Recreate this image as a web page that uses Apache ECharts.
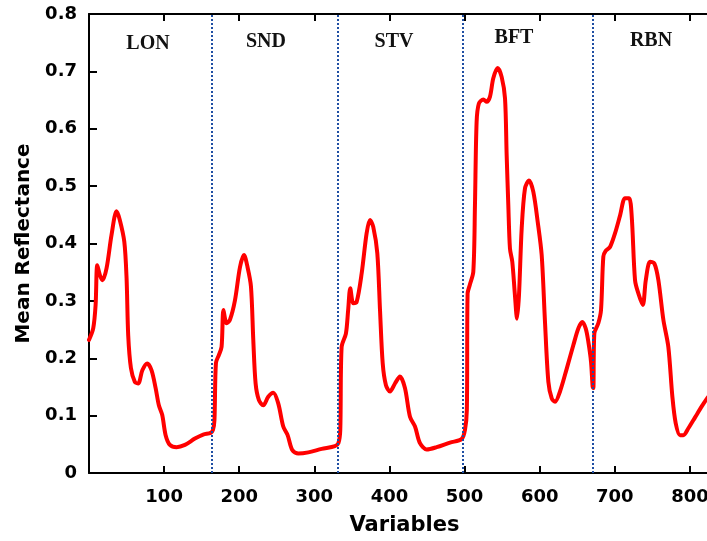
<!DOCTYPE html>
<html>
<head>
<meta charset="utf-8">
<script src="https://cdn.jsdelivr.net/npm/echarts@6/dist/echarts.min.js"></script>
<style>html,body{margin:0;padding:0;background:#fff;}#c{width:707px;height:541px;}</style>
</head>
<body>
<div id="c"></div>
<script>
// Variable index (x) and mean reflectance (y)
var variables = [
  0, 5.6, 8.8, 11, 14.5, 18, 23.4, 30, 36.7, 41, 47, 50, 52.2, 55.8, 61, 65.5, 71, 77.5, 83.3, 88.7,
  93, 97.5, 102, 107.7, 116.6, 127.7, 141, 152, 162, 165, 167, 169,
  173, 176.5, 179, 183.2, 187.6, 194.3, 201, 206.3, 211, 215.6, 218.7, 221.8, 226.2, 232, 238.6, 245.3,
  252, 258.6, 264.4, 270.6, 278.6, 292, 309.7, 327.4, 332, 334.5, 336.3,
  342, 345, 347.8, 351.8, 356.3, 363, 369.6, 374, 378.4, 383.8, 387.4, 391, 395.3, 400.7, 407.3, 414,
  420.6, 427.3, 434, 440.6, 449.5, 462.8, 480.6, 496, 500.5, 503, 504,
  507, 511.6, 513.8, 516, 519, 525, 529.4, 533.8, 538.2, 544, 549.4, 553.8, 556, 558.2, 560.4, 563.5,
  567, 569.8, 572.4, 576, 580.4, 585.8, 591.5, 597.3, 602.6, 607, 611.5, 616, 620.4, 627, 636, 644.8,
  651.4, 656.7, 661.2, 664.7, 668.3, 670.5, 671.4, 672.7,
  678, 681.6, 684.7, 687.8, 693.6, 700.3, 707, 713.6, 719, 722.5, 726.9, 731.3, 737.2, 741.2, 746.9,
  752.7, 758, 764.6, 771.2, 776.6, 781, 786.8, 791.2, 797.9, 806.8, 815.7, 822.8, 830
];
var reflectance = [
  0.232, 0.252, 0.293, 0.362, 0.345, 0.336, 0.357, 0.415, 0.456, 0.441, 0.403, 0.34, 0.24, 0.183, 0.159, 0.156, 0.179, 0.191, 0.179, 0.148,
  0.118, 0.101, 0.066, 0.049, 0.045, 0.049, 0.060, 0.067, 0.070, 0.075, 0.092, 0.192,
  0.206, 0.220, 0.284, 0.261, 0.267, 0.301, 0.359, 0.380, 0.359, 0.325, 0.232, 0.156, 0.127, 0.118, 0.133, 0.140,
  0.121, 0.081, 0.066, 0.040, 0.034, 0.036, 0.042, 0.047, 0.052, 0.075, 0.220,
  0.243, 0.284, 0.322, 0.296, 0.298, 0.348, 0.418, 0.441, 0.429, 0.383, 0.284, 0.191, 0.153, 0.142, 0.156, 0.168,
  0.148, 0.098, 0.081, 0.052, 0.041, 0.045, 0.053, 0.059, 0.075, 0.11, 0.313,
  0.328, 0.351, 0.467, 0.612, 0.644, 0.651, 0.647, 0.656, 0.688, 0.706, 0.690, 0.653, 0.554, 0.467, 0.391, 0.368,
  0.310, 0.269, 0.310, 0.426, 0.496, 0.510, 0.490, 0.438, 0.380, 0.264, 0.159, 0.130, 0.124, 0.142, 0.182, 0.223,
  0.252, 0.263, 0.252, 0.229, 0.194, 0.150, 0.148, 0.243,
  0.261, 0.284, 0.377, 0.387, 0.394, 0.418, 0.449, 0.479, 0.479, 0.447, 0.336, 0.313, 0.293, 0.336, 0.368,
  0.365, 0.336, 0.267, 0.220, 0.133, 0.087, 0.066, 0.066, 0.078, 0.097, 0.116, 0.130, 0.142
];
// Segment boundaries (dotted lines) and group labels
var boundaries = [164, 331, 498, 670];
var groupNames = ['LON', 'SND', 'STV', 'BFT', 'RBN'];
var groupLabelX = [148, 266, 394, 514, 651];
var groupLabelY = [44, 42, 42, 38, 41];
var xTicks = [100, 200, 300, 400, 500, 600, 700, 800];
var yTicks = [0, 0.1, 0.2, 0.3, 0.4, 0.5, 0.6, 0.7, 0.8];

var points = variables.map(function (v, i) { return [v, reflectance[i]]; });

var chart = echarts.init(document.getElementById('c'), null, { renderer: 'canvas' });
var tickFont = { fontFamily: 'DejaVu Sans', fontWeight: 'bold', fontSize: 18, color: '#000' };
chart.setOption({
  animation: false,
  backgroundColor: '#fff',
  grid: { left: 89, top: 14, width: 631, height: 459, containLabel: false, outerBoundsMode: 'none' },
  xAxis: [{
    type: 'value', min: 0, max: 840, interval: 100, position: 'bottom',
    name: 'Variables', nameLocation: 'middle', nameGap: 42,
    nameTextStyle: { fontFamily: 'DejaVu Sans', fontWeight: 'bold', fontSize: 21, color: '#000' },
    axisLine: { show: true, onZero: false, lineStyle: { color: '#000', width: 2 } },
    axisTick: { show: true, inside: true, length: 7, lineStyle: { color: '#000', width: 2 } },
    axisLabel: Object.assign({ margin: 15, showMaxLabel: false,
      formatter: function (v) { return xTicks.indexOf(v) >= 0 ? String(v) : ''; } }, tickFont),
    splitLine: { show: false }
  }, {
    type: 'value', min: 0, max: 840, interval: 100, position: 'top',
    axisLine: { show: true, onZero: false, lineStyle: { color: '#000', width: 2 } },
    axisTick: { show: true, inside: true, length: 7, lineStyle: { color: '#000', width: 2 } },
    axisLabel: { show: false }, splitLine: { show: false }
  }],
  yAxis: [{
    type: 'value', min: 0, max: 0.8, interval: 0.1,
    name: 'Mean Reflectance', nameLocation: 'middle', nameGap: 52, nameRotate: 90,
    nameTextStyle: { fontFamily: 'DejaVu Sans', fontWeight: 'bold', fontSize: 20, color: '#000' },
    axisLine: { show: true, lineStyle: { color: '#000', width: 2 } },
    axisTick: { show: true, inside: true, length: 8, lineStyle: { color: '#000', width: 2 } },
    axisLabel: Object.assign({ margin: 12,
      formatter: function (v) { return v === 0 ? '0' : v.toFixed(1); } }, tickFont),
    splitLine: { show: false }
  }],
  series: [{
    type: 'line',
    data: points,
    showSymbol: false,
    smooth: 0.3,
    lineStyle: { color: '#ff0000', width: 4, join: 'round', cap: 'round' },
    z: 3,
    markLine: {
      silent: true, symbol: 'none',
      label: { show: false },
      lineStyle: { color: '#1f4ea3', width: 2, type: [2, 2] },
      data: boundaries.map(function (b) { return { xAxis: b }; })
    }
  }],
  graphic: groupNames.map(function (n, i) {
    return {
      type: 'text', x: groupLabelX[i], y: groupLabelY[i], z: 10,
      style: { text: n, fill: '#111', font: 'bold 20px "Liberation Serif"', align: 'center', verticalAlign: 'middle' }
    };
  })
});
</script>
</body>
</html>
